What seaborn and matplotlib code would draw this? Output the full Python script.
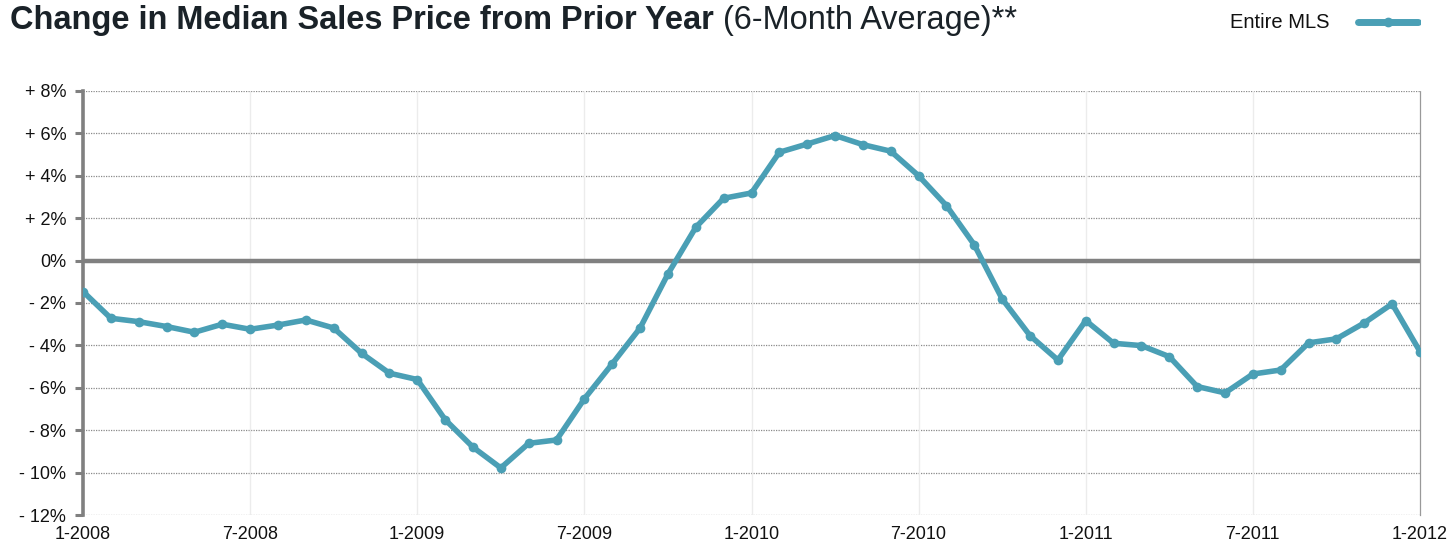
import matplotlib
matplotlib.use("Agg")
import matplotlib.pyplot as plt
import seaborn as sns
import pandas as pd
import numpy as np

# Data: monthly 6-month-average change in median sales price, 1-2008 .. 1-2012
months = list(range(49))
change_pct = [
    -1.46, -2.72, -2.88, -3.11, -3.38, -3.00, -3.24, -3.04, -2.80, -3.18, -4.37, -5.31,
    -5.61, -7.50, -8.80, -9.78, -8.62, -8.46, -6.52, -4.87, -3.18, -0.63, 1.57, 2.94,
    3.19, 5.11, 5.50, 5.90, 5.47, 5.16, 4.00, 2.59, 0.74, -1.81, -3.54, -4.69,
    -2.83, -3.90, -4.01, -4.53, -5.94, -6.24, -5.35, -5.16, -3.88, -3.69, -2.94, -2.04,
    -4.29,
]
x_tick_pos = [0, 6, 12, 18, 24, 30, 36, 42, 48]
x_tick_labels = ["1-2008", "7-2008", "1-2009", "7-2009", "1-2010", "7-2010",
                 "1-2011", "7-2011", "1-2012"]
y_tick_vals = [8, 6, 4, 2, 0, -2, -4, -6, -8, -10, -12]
y_tick_labels = ["+ 8%", "+ 6%", "+ 4%", "+ 2%", "0%", "- 2%", "- 4%", "- 6%",
                 "- 8%", "- 10%", "- 12%"]
series_name = "Entire MLS"
title_main = "Change in Median Sales Price from Prior Year"
title_sub = " (6-Month Average)**"

df = pd.DataFrame({"month": months, "change": change_pct, "series": series_name})

sns.set_theme(style="white")
plt.rcParams["font.family"] = ["Liberation Sans", "DejaVu Sans"]

W, H = 1452, 548
fig = plt.figure(figsize=(W / 100, H / 100), dpi=100)
ax = fig.add_axes([83 / W, 1 - 515 / H, (1420 - 83) / W, (515 - 91) / H])

line_color = "#4a9fb5"
sns.lineplot(data=df, x="month", y="change", ax=ax, color=line_color, linewidth=4.0,
             marker="o", markersize=7, markeredgewidth=0, legend=False, zorder=5)

ax.set_xlim(0, 48)
ax.set_ylim(-12, 8)
ax.set_xticks(x_tick_pos)
ax.set_xticklabels(x_tick_labels, fontsize=13, color="#111111")
ax.set_yticks(y_tick_vals)
ax.set_yticklabels(y_tick_labels, fontsize=13, color="#111111")
ax.set_xlabel("")
ax.set_ylabel("")

# gridlines
for yv in y_tick_vals:
    if yv != 0:
        ax.axhline(yv, color="#8a8a8a", linewidth=0.9, linestyle=(0, (1, 1)), zorder=1)
for xv in x_tick_pos[1:-1]:
    ax.axvline(xv, color="#ececec", linewidth=1.0, zorder=1)
ax.axhline(0, color="#808080", linewidth=3.2, zorder=2)

for s in ["top", "bottom"]:
    ax.spines[s].set_visible(False)
ax.spines["right"].set_color("#999999")
ax.spines["right"].set_linestyle((0, (1, 1)))
ax.spines["right"].set_linewidth(0.9)
ax.spines["left"].set_color("#808080")
ax.spines["left"].set_linewidth(2.6)

ax.tick_params(axis="y", which="both", left=True, length=6, width=2.2, color="#808080", pad=6)
ax.tick_params(axis="x", which="both", bottom=False, length=0, pad=8)

# Title: two parts, sized to span the same width as the reference
renderer = fig.canvas.get_renderer()
fs = 23
t1 = fig.text(10 / W, 1 - 21 / H, title_main, fontsize=fs, fontweight="bold",
              color="#1a2228", va="center", ha="left")
t2 = fig.text(0, 1 - 21 / H, title_sub, fontsize=fs, color="#1a2228",
              va="center", ha="left")
w1 = t1.get_window_extent(renderer).width
w2 = t2.get_window_extent(renderer).width
scale = (1018 - 10) / (w1 + w2)
fs2 = fs * scale
t1.set_fontsize(fs2)
t2.set_fontsize(fs2)
w1 = t1.get_window_extent(renderer).width
t2.set_x((10 + w1) / W)

# Legend
fig.text(1230 / W, 1 - 22 / H, series_name, fontsize=14.5, color="#111111",
         va="center", ha="left")
leg_ax = fig.add_axes([1355 / W, 1 - 32 / H, 66 / W, 20 / H])
leg_ax.plot([0, 1], [0.5, 0.5], color=line_color, linewidth=5, solid_capstyle="round")
leg_ax.plot([0.5], [0.5], "o", color=line_color, markersize=6)
leg_ax.set_xlim(-0.05, 1.05)
leg_ax.set_ylim(0, 1)
leg_ax.axis("off")

fig.savefig("out.png", dpi=100)
